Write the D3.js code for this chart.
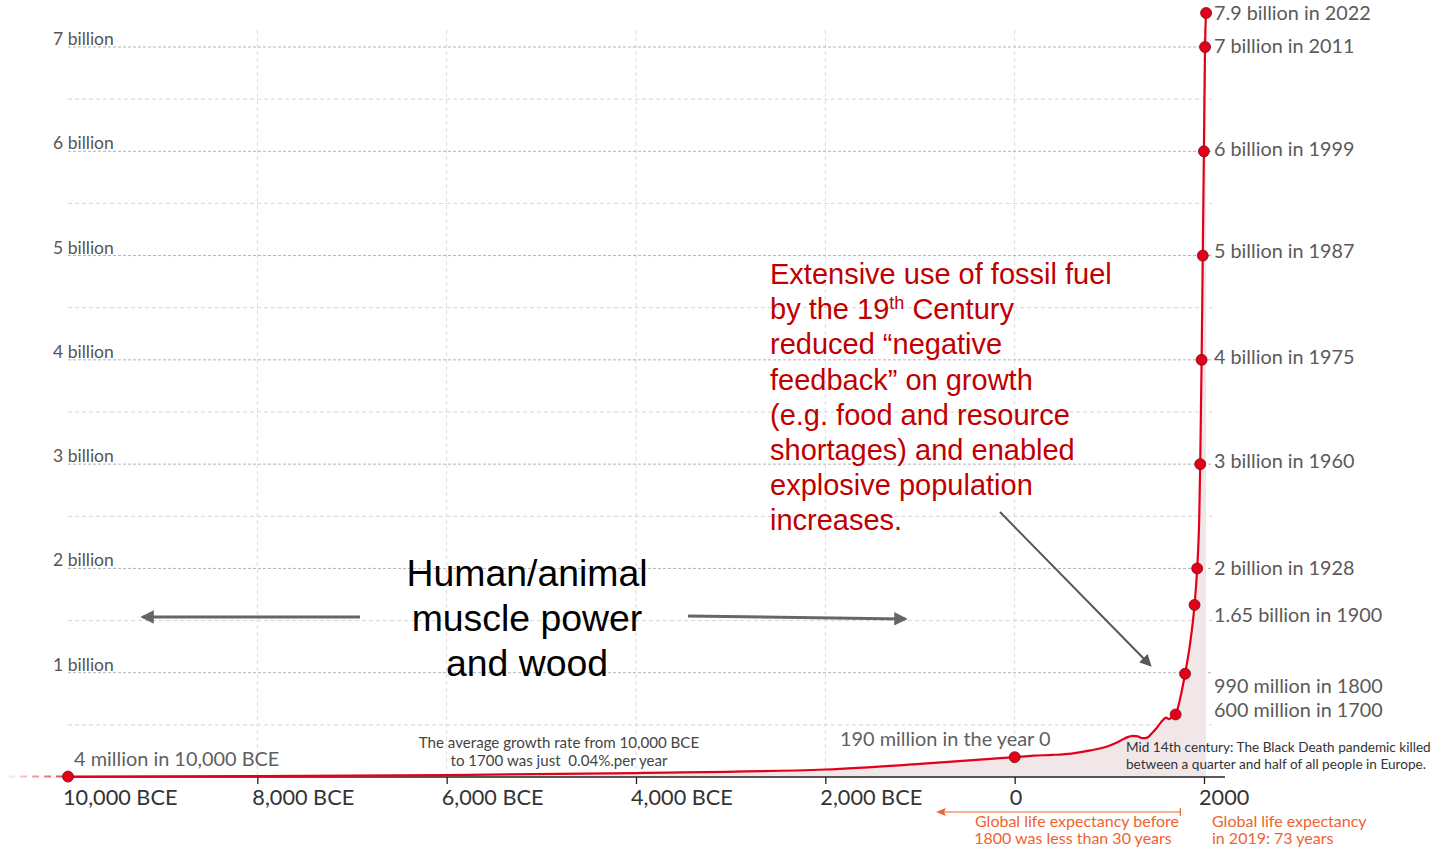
<!DOCTYPE html>
<html>
<head>
<meta charset="utf-8">
<script src="https://cdn.jsdelivr.net/npm/d3@7"></script>
<style>
  html, body { margin: 0; padding: 0; background: #fff; }
  svg { display: block; }
</style>
</head>
<body>
<svg id="chart" width="1451" height="849"></svg>
<script>
// ---------------- DATA ----------------
const curveYears = [-10000, -8000, -6000, -4000, -2000, -1000, 0, 200, 400, 600, 800, 1000, 1100, 1200, 1250, 1300, 1350, 1400, 1450, 1500, 1550, 1600, 1630, 1650, 1700, 1750, 1800, 1850, 1900, 1928, 1950, 1960, 1975, 1987, 1999, 2011, 2022];
const curvePop   = [0.004, 0.009, 0.018, 0.038, 0.072, 0.125, 0.19, 0.205, 0.212, 0.225, 0.255, 0.30, 0.34, 0.385, 0.395, 0.39, 0.372, 0.378, 0.42, 0.47, 0.53, 0.57, 0.555, 0.565, 0.60, 0.76, 0.99, 1.26, 1.65, 2.0, 2.5, 3.0, 4.0, 5.0, 6.0, 7.0, 7.9];

const markerYears = [-10000, 0, 1700, 1800, 1900, 1928, 1960, 1975, 1987, 1999, 2011, 2022];
const markerPop   = [0.004, 0.19, 0.60, 0.99, 1.65, 2.0, 3.0, 4.0, 5.0, 6.0, 7.0, 7.9];

const rightLabelYears = [2022, 2011, 1999, 1987, 1975, 1960, 1928, 1900, 1800, 1700];
const rightLabelPop   = [7.9, 7.0, 6.0, 5.0, 4.0, 3.0, 2.0, 1.65, 0.99, 0.60];
const rightLabelText  = ["7.9 billion in 2022", "7 billion in 2011", "6 billion in 1999", "5 billion in 1987", "4 billion in 1975", "3 billion in 1960", "2 billion in 1928", "1.65 billion in 1900", "990 million in 1800", "600 million in 1700"];
const rightLabelDy    = [0, -1, -2, -5, -3, -3, 0, 10, 12, -4];

const xTickValues = [-10000, -8000, -6000, -4000, -2000, 0, 2000];
const xTickLabels = ["10,000 BCE", "8,000 BCE", "6,000 BCE", "4,000 BCE", "2,000 BCE", "0", "2000"];
const yMajorTicks = [1, 2, 3, 4, 5, 6, 7];
const yMajorLabels = ["1 billion", "2 billion", "3 billion", "4 billion", "5 billion", "6 billion", "7 billion"];
const yMinorTicks = [0.5, 1.5, 2.5, 3.5, 4.5, 5.5, 6.5];

const fossilText = ["Extensive use of fossil fuel", "by the 19|th| Century", "reduced \u201cnegative", "feedback\u201d on growth", "(e.g. food and resource", "shortages) and enabled", "explosive population", "increases."];
const muscleText = ["Human/animal", "muscle power", "and wood"];

// ---------------- SCALES ----------------
const svg = d3.select("#chart");
const x = d3.scaleLinear().domain([-10000, 2000]).range([68, 1204]);
// the top of the chart is compressed in the original (7.9 billion drawn just above 7 billion)
const y = d3.scaleLinear().domain([0, 7, 7.9]).range([777, 47, 13]);

const gridTop = 30;
const gridRight = 1212;
const lato = "Lato, 'Open Sans', sans-serif";

// ---------------- GRID ----------------
const grid = svg.append("g");
grid.selectAll("line.vg").data(xTickValues.slice(1)).join("line")
  .attr("x1", d => x(d)).attr("x2", d => x(d))
  .attr("y1", gridTop).attr("y2", y(0))
  .attr("stroke", "#dcdcdc").attr("stroke-width", 1).attr("stroke-dasharray", "4,3");
grid.selectAll("line.hmin").data(yMinorTicks).join("line")
  .attr("x1", x(-10000)).attr("x2", gridRight)
  .attr("y1", d => y(d)).attr("y2", d => y(d))
  .attr("stroke", "#d6d6d6").attr("stroke-width", 1).attr("stroke-dasharray", "4,3");
grid.selectAll("line.hmaj").data(yMajorTicks).join("line")
  .attr("x1", x(-10000)).attr("x2", gridRight)
  .attr("y1", d => y(d)).attr("y2", d => y(d))
  .attr("stroke", "#b3b3b3").attr("stroke-width", 1).attr("stroke-dasharray", "3,2");
grid.selectAll("text.yl").data(yMajorTicks).join("text")
  .attr("x", 53).attr("y", d => y(d) - 2)
  .attr("font-family", lato).attr("font-size", 17.5)
  .attr("fill", "#555")
  .text((d, i) => yMajorLabels[i]);

// ---------------- AREA + LINE ----------------
const series = curveYears.map((yr, i) => ({ yr, v: curvePop[i] }));
svg.append("path").datum(series)
  .attr("fill", "#f1e7e9")
  .attr("d", d3.area().x(d => x(d.yr)).y0(y(0)).y1(d => y(d.v)).curve(d3.curveMonotoneX));

// x axis
const axisG = svg.append("g").attr("transform", `translate(0,${y(0)})`);
axisG.append("line").attr("x1", x(-10000)).attr("x2", x(2000) + 21)
  .attr("stroke", "#222").attr("stroke-width", 1.5);
const xAxis = d3.axisBottom(x).tickValues(xTickValues.slice(1)).tickSize(7)
  .tickFormat(d => xTickLabels[xTickValues.indexOf(d)]);
axisG.append("g").call(xAxis).call(g => {
  g.select(".domain").remove();
  g.selectAll(".tick line").attr("stroke", "#222").attr("stroke-width", 1.3);
  g.selectAll(".tick text").remove();
});
axisG.selectAll("text.xl").data(xTickValues).join("text")
  .attr("x", d => x(d) - 5).attr("y", 28)
  .attr("font-family", lato).attr("font-size", 21.7)
  .attr("fill", "#333")
  .text((d, i) => xTickLabels[i]);

// dashed lead-in left of 10,000 BCE
const defs = svg.append("defs");
const grad = defs.append("linearGradient").attr("id", "fade").attr("gradientUnits", "userSpaceOnUse")
  .attr("x1", 8).attr("x2", x(-10000)).attr("y1", 0).attr("y2", 0);
grad.append("stop").attr("offset", 0).attr("stop-color", "#e0001b").attr("stop-opacity", 0.05);
grad.append("stop").attr("offset", 1).attr("stop-color", "#d0303a").attr("stop-opacity", 0.9);
svg.append("line").attr("x1", 8).attr("x2", x(-10000)).attr("y1", y(curvePop[0])).attr("y2", y(curvePop[0]))
  .attr("stroke", "url(#fade)").attr("stroke-width", 2).attr("stroke-dasharray", "7,5");

svg.append("path").datum(series)
  .attr("fill", "none").attr("stroke", "#e2001a").attr("stroke-width", 2.2)
  .attr("d", d3.line().x(d => x(d.yr)).y(d => y(d.v)).curve(d3.curveMonotoneX));

// markers
svg.selectAll("circle.m").data(markerYears).join("circle")
  .attr("cx", d => x(d)).attr("cy", (d, i) => y(markerPop[i])).attr("r", 5.5)
  .attr("fill", "#e2001a").attr("stroke", "#7a1010").attr("stroke-width", 0.8);

// right-side labels
svg.selectAll("text.rl").data(rightLabelText).join("text")
  .attr("x", 1214).attr("y", (d, i) => y(rightLabelPop[i]) + rightLabelDy[i])
  .attr("dy", "0.35em")
  .attr("font-family", lato).attr("font-size", 19.8)
  .attr("fill", "#5a5a5a")
  .text(d => d);

// ---------------- ANNOTATIONS ----------------
svg.append("text").attr("x", 74).attr("y", 766).attr("font-family", lato).attr("font-size", 19.9)
  .attr("fill", "#5f5f5f").text("4 million in 10,000 BCE");
svg.append("text").attr("x", 840).attr("y", 746).attr("font-family", lato).attr("font-size", 19.9)
  .attr("fill", "#5f5f5f").text("190 million in the year 0");

const growth = svg.append("text").attr("font-family", lato).attr("font-size", 15.1).attr("fill", "#444")
  .attr("text-anchor", "middle").style("white-space", "pre");
growth.append("tspan").attr("x", 559).attr("y", 748).text("The average growth rate from 10,000 BCE");
growth.append("tspan").attr("x", 559).attr("y", 766).text("to 1700 was just\u00a0 0.04%.per year");

const bd = svg.append("text").attr("font-family", lato).attr("font-size", 13.6).attr("fill", "#333");
bd.append("tspan").attr("x", 1126).attr("y", 752).text("Mid 14th century: The Black Death pandemic killed");
bd.append("tspan").attr("x", 1126).attr("y", 769).text("between a quarter and half of all people in Europe.");

// life expectancy notes
const orange = "#f0622f";
const le1 = svg.append("text").attr("font-family", lato).attr("font-size", 16).attr("fill", orange).attr("text-anchor", "middle");
le1.append("tspan").attr("x", 1077).attr("y", 827).text("Global life expectancy before");
le1.append("tspan").attr("x", 1073).attr("y", 844).text("1800 was less than 30 years");
const le2 = svg.append("text").attr("font-family", lato).attr("font-size", 16).attr("fill", orange);
le2.append("tspan").attr("x", 1212).attr("y", 827).text("Global life expectancy");
le2.append("tspan").attr("x", 1212).attr("y", 844).text("in 2019: 73 years");
svg.append("line").attr("x1", x(1750)).attr("x2", 944).attr("y1", 812).attr("y2", 812)
  .attr("stroke", orange).attr("stroke-width", 1.2);
svg.append("line").attr("x1", x(1750)).attr("x2", x(1750)).attr("y1", 808).attr("y2", 816)
  .attr("stroke", orange).attr("stroke-width", 1.2);
svg.append("path").attr("d", "M936,812 L946,808 L944,812 L946,816 Z").attr("fill", orange);

// fossil fuel text
const ft = svg.append("text").attr("font-family", "'Liberation Sans', Arial, sans-serif")
  .attr("font-size", 29).attr("fill", "#c00000");
fossilText.forEach((line, i) => {
  const parts = line.split("|");
  const ty = 284 + i * 35.2;
  if (parts.length === 1) {
    ft.append("tspan").attr("x", 770).attr("y", ty).text(line);
  } else {
    ft.append("tspan").attr("x", 770).attr("y", ty).text(parts[0]);
    ft.append("tspan").attr("dy", -10).attr("font-size", 18).text(parts[1]);
    ft.append("tspan").attr("dy", 10).text(parts[2]);
  }
});

// arrow markers
defs.append("marker").attr("id", "ahGray").attr("viewBox", "0 0 10 10").attr("refX", 8).attr("refY", 5)
  .attr("markerWidth", 6).attr("markerHeight", 6).attr("orient", "auto-start-reverse")
  .append("path").attr("d", "M0,0 L10,5 L0,10 Z").attr("fill", "#595959");
defs.append("marker").attr("id", "ahGray2").attr("viewBox", "0 0 10 10").attr("refX", 8).attr("refY", 5)
  .attr("markerWidth", 4.5).attr("markerHeight", 4.5).attr("orient", "auto-start-reverse")
  .append("path").attr("d", "M0,0 L10,5 L0,10 Z").attr("fill", "#666");

svg.append("line").attr("x1", 1000).attr("y1", 512).attr("x2", 1150).attr("y2", 665)
  .attr("stroke", "#555").attr("stroke-width", 2).attr("marker-end", "url(#ahGray)");

// muscle power text and arrows
const mt = svg.append("text").attr("font-family", "'Liberation Sans', Arial, sans-serif")
  .attr("font-size", 37.4).attr("fill", "#000").attr("text-anchor", "middle");
muscleText.forEach((line, i) => {
  mt.append("tspan").attr("x", 527).attr("y", 586 + i * 45).text(line);
});
svg.append("line").attr("x1", 360).attr("y1", 617).attr("x2", 143).attr("y2", 617)
  .attr("stroke", "#666").attr("stroke-width", 3).attr("marker-end", "url(#ahGray2)");
svg.append("line").attr("x1", 688).attr("y1", 616).attr("x2", 905).attr("y2", 619)
  .attr("stroke", "#666").attr("stroke-width", 3).attr("marker-end", "url(#ahGray2)");
</script>
</body>
</html>
